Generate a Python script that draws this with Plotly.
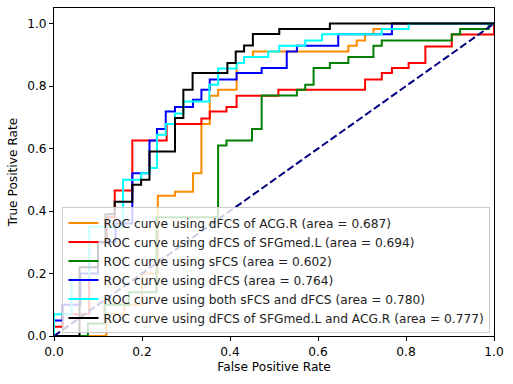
import plotly.graph_objects as go

# ROC points: (fpr at which tpr jumps, new tpr), drawn as steps (hv)
fpr_acg = [0, 0.119, 0.16, 0.2, 0.236, 0.275, 0.316, 0.335, 0.354, 0.373, 0.415, 0.432, 0.452, 0.669, 0.688, 0.707, 0.726, 0.768, 1.0]
tpr_acg = [0, 0.07, 0.1, 0.2, 0.449, 0.462, 0.521, 0.679, 0.769, 0.788, 0.874, 0.893, 0.911, 0.929, 0.946, 0.966, 0.983, 1.0, 1.0]

fpr_sfg = [0, 0, 0.02, 0.08, 0.12, 0.138, 0.178, 0.256, 0.335, 0.354, 0.392, 0.415, 0.510, 0.707, 0.745, 0.768, 0.806, 0.844, 0.904, 1.0]
tpr_sfg = [0, 0.03, 0.07, 0.30, 0.38, 0.466, 0.626, 0.679, 0.696, 0.719, 0.733, 0.769, 0.788, 0.821, 0.842, 0.858, 0.874, 0.927, 0.965, 1.0]

fpr_sfcs = [0, 0.077, 0.115, 0.17, 0.233, 0.373, 0.392, 0.450, 0.472, 0.552, 0.571, 0.590, 0.627, 0.669, 0.726, 0.745, 0.904, 0.923, 0.988, 1.0]
tpr_sfcs = [0, 0.04, 0.1, 0.14, 0.38, 0.61, 0.626, 0.663, 0.770, 0.788, 0.804, 0.858, 0.874, 0.893, 0.929, 0.946, 0.966, 0.983, 1.0, 1.0]

fpr_dfcs = [0, 0, 0.02, 0.06, 0.1, 0.14, 0.178, 0.217, 0.234, 0.254, 0.275, 0.316, 0.335, 0.354, 0.415, 0.472, 0.529, 0.552, 0.646, 0.768, 1.0]
tpr_dfcs = [0, 0.05, 0.1, 0.2, 0.3, 0.36, 0.521, 0.626, 0.663, 0.719, 0.733, 0.756, 0.788, 0.821, 0.842, 0.858, 0.911, 0.929, 0.966, 1.0, 1.0]

fpr_both = [0, 0, 0.04, 0.08, 0.157, 0.198, 0.217, 0.234, 0.254, 0.275, 0.294, 0.353, 0.373, 0.415, 0.432, 0.487, 0.512, 0.571, 0.609, 0.745, 0.806, 1.0]
tpr_both = [0, 0.07, 0.18, 0.35, 0.5, 0.521, 0.538, 0.644, 0.679, 0.712, 0.751, 0.804, 0.856, 0.874, 0.893, 0.911, 0.929, 0.946, 0.966, 0.983, 1.0, 1.0]

fpr_comb = [0, 0.058, 0.1, 0.117, 0.138, 0.178, 0.198, 0.217, 0.275, 0.294, 0.315, 0.394, 0.413, 0.432, 0.452, 0.512, 0.627, 1.0]
tpr_comb = [0, 0.22, 0.30, 0.39, 0.43, 0.484, 0.5, 0.591, 0.698, 0.788, 0.842, 0.874, 0.911, 0.930, 0.967, 0.983, 1.0, 1.0]

labels = [
    "ROC curve using dFCS of ACG.R (area = 0.687)",
    "ROC curve using dFCS of SFGmed.L (area = 0.694)",
    "ROC curve using sFCS (area = 0.602)",
    "ROC curve using dFCS (area = 0.764)",
    "ROC curve using both sFCS and dFCS (area = 0.780)",
    "ROC curve using dFCS of SFGmed.L and ACG.R (area = 0.777)",
]
colors = ["#FF8C00", "#FF0000", "#008000", "#0000FF", "#00FFFF", "#000000"]
series = [(fpr_acg, tpr_acg), (fpr_sfg, tpr_sfg), (fpr_sfcs, tpr_sfcs),
          (fpr_dfcs, tpr_dfcs), (fpr_both, tpr_both), (fpr_comb, tpr_comb)]

diag = [0, 1]

tick_vals = [0.0, 0.2, 0.4, 0.6, 0.8, 1.0]
tick_text = ["0.0", "0.2", "0.4", "0.6", "0.8", "1.0"]

fig = go.Figure()
for (fx, ty), lab, col in zip(series, labels, colors):
    fig.add_trace(go.Scatter(x=fx, y=ty, mode="lines", name=lab,
                             line=dict(color=col, width=2, shape="hv")))
fig.add_trace(go.Scatter(x=diag, y=diag, mode="lines", showlegend=False,
                         line=dict(color="#000080", width=2, dash="7.4px,3.2px")))

font = dict(family="DejaVu Sans", size=12.2, color="#000000")
axis_common = dict(showline=True, mirror=True, linecolor="black", linewidth=1,
                   ticks="outside", ticklen=4, tickcolor="black", showgrid=False,
                   zeroline=False, tickfont=font, tickmode="array",
                   tickvals=tick_vals, ticktext=tick_text, automargin=False)
fig.update_layout(
    width=513, height=384,
    margin=dict(l=54, r=19, t=8, b=48),
    plot_bgcolor="white", paper_bgcolor="white",
    font=font,
    xaxis=dict(range=[0, 1.0], title=dict(text="False Positive Rate", font=font, standoff=4), **axis_common),
    yaxis=dict(range=[0, 1.05], title=dict(text="True Positive Rate", font=font, standoff=6), **axis_common),
    legend=dict(x=0.992, y=0.008, xanchor="right", yanchor="bottom",
                bgcolor="rgba(255,255,255,0.8)", bordercolor="#cccccc", borderwidth=1,
                font=dict(family="DejaVu Sans", size=12.2, color="#222222"),
                tracegroupgap=0, itemwidth=30),
    showlegend=True,
)
fig.write_html("out.html", config={"displayModeBar": False},
               post_script="document.body.style.margin='0';document.body.style.padding='0';")
